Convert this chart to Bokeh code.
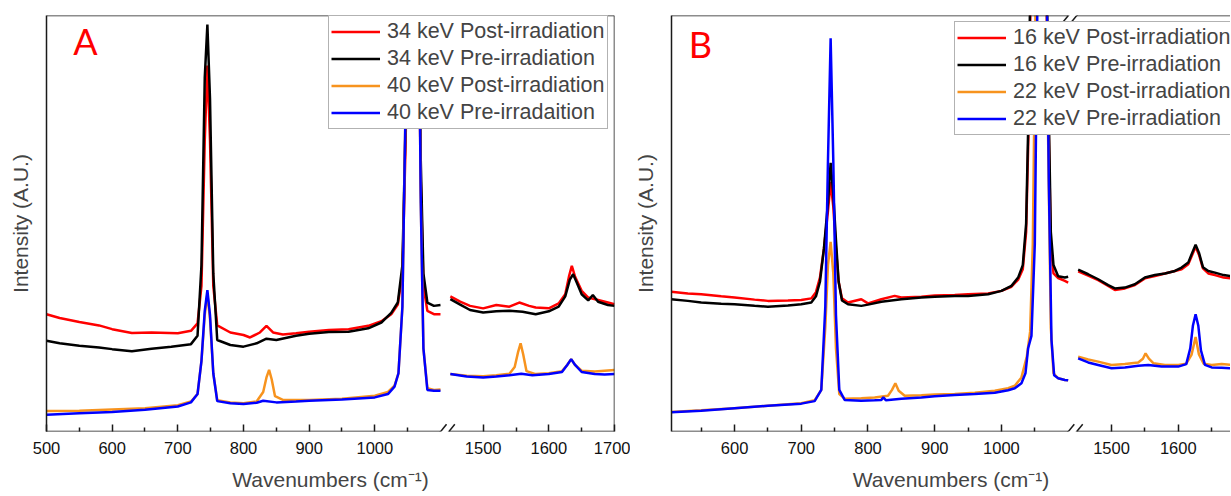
import numpy as np
from bokeh.plotting import figure
from bokeh.layouts import row
from bokeh.models import (ColumnDataSource, CustomJSTransform, FixedTicker, CustomJSTickFormatter,
                          Legend, LegendItem, Label, Arrow, Range1d)
from bokeh.transform import transform
from bokeh.embed import file_html
from bokeh.resources import INLINE

# ---------------- data (intensity in % of plot height, A.U.) ----------------
COLORS = ["#ff0000", "#000000", "#f7931e", "#0000ff"]
A_LABELS = ["34 keV Post-irradiation", "34 keV Pre-irradiation",
            "40 keV Post-irradiation", "40 keV Pre-irradaition"]
B_LABELS = ["16 keV Post-irradiation", "16 keV Pre-irradiation",
            "22 keV Post-irradiation", "22 keV Pre-irradiation"]

MAJOR_TICKS = [500, 600, 700, 800, 900, 1000, 1500, 1600, 1700]
MINOR_TICKS = [550, 650, 750, 850, 950, 1050, 1550, 1650]

# Panel A, 34 keV post (red)
A_red_x = [500, 520, 550, 580, 600, 630, 660, 700, 720, 730, 736, 741, 745, 749, 754, 760, 780, 800, 810,
           825, 835, 845, 860, 880, 900, 930, 960, 990, 1010, 1025, 1035, 1042, 1047, 1052, 1060, 1066,
           1070, 1074, 1080, 1090, 1100,
           1450, 1465, 1480, 1500, 1520, 1540, 1555, 1570, 1580, 1600, 1615, 1625, 1631, 1635, 1640, 1650,
           1660, 1675, 1690, 1700]
A_red_y = [28.2, 27.3, 26.3, 25.5, 24.6, 23.7, 23.8, 23.6, 24.2, 26, 35, 70, 88, 70, 35, 25.5, 23.8, 23.2, 22.6,
           23.8, 25.4, 23.8, 23.3, 23.6, 24.0, 24.4, 24.6, 25.4, 26.5, 28.2, 30.5, 38, 70, 130, 150, 110,
           60, 35, 29, 28.2, 28.2,
           32.5, 31.2, 30.2, 29.6, 30.4, 30.0, 31.0, 30.2, 29.8, 29.6, 30.8, 33.0, 37.5, 39.8, 37.2, 33.8,
           32.2, 31.6, 31.0, 30.6]
# Panel A, 34 keV pre (black)
A_blk_x = [500, 520, 550, 580, 600, 630, 660, 690, 720, 730, 736, 741, 745, 749, 754, 760, 780, 800, 820,
           835, 850, 880, 900, 930, 960, 990, 1010, 1025, 1035, 1042, 1047, 1052, 1060, 1066, 1070, 1074,
           1080, 1090, 1100,
           1450, 1465, 1480, 1500, 1520, 1540, 1560, 1580, 1600, 1615, 1625, 1632, 1637, 1642, 1650, 1660,
           1667, 1675, 1690, 1700]
A_blk_y = [21.8, 21.2, 20.6, 20.2, 19.8, 19.3, 19.9, 20.4, 21.0, 23, 40, 85, 97.8, 80, 38, 22, 20.8, 20.4, 21.2,
           22.3, 22.0, 23.0, 23.5, 23.9, 24.0, 24.8, 26.2, 28.5, 31, 40, 75, 140, 160, 120, 65, 38,
           31, 30.2, 30.4,
           31.8, 30.5, 29.2, 28.6, 28.9, 29.0, 28.8, 28.2, 28.9, 30.0, 32.5, 36.5, 37.8, 36, 33.0, 31.5,
           32.8, 31.2, 30.4, 30.2]
# Panel A, 40 keV post (orange)
A_org_x = [500, 550, 600, 650, 700, 720, 730, 736, 741, 745, 749, 754, 760, 780, 800, 820, 830, 835, 839,
           843, 848, 860, 900, 950, 1000, 1020, 1030, 1036, 1042, 1047, 1052, 1060, 1066, 1070, 1074,
           1080, 1090, 1100,
           1450, 1475, 1500, 1520, 1540, 1548, 1553, 1557, 1561, 1566, 1580, 1600, 1620, 1628, 1634, 1640,
           1650, 1670, 1685, 1700]
A_org_y = [4.9, 5.0, 5.3, 5.6, 6.3, 7.2, 9, 17, 28, 33, 27, 14, 7.5, 7.0, 6.8, 7.2, 9.5, 13, 14.8,
           12.5, 8.5, 7.6, 7.6, 7.9, 8.6, 9.5, 11, 14, 30, 80, 150, 170, 120, 55, 20,
           10.4, 10.0, 10.1,
           13.8, 13.4, 13.3, 13.5, 13.9, 15.5, 19, 21.2, 18.5, 14.5, 13.8, 14.0, 14.5, 16, 17.4, 16,
           14.6, 14.4, 14.6, 14.8]
# Panel A, 40 keV pre (blue)
A_blu_x = [500, 550, 600, 650, 700, 720, 730, 736, 741, 745, 749, 754, 760, 780, 800, 820, 830, 850, 880,
           900, 950, 1000, 1020, 1030, 1036, 1042, 1047, 1052, 1060, 1066, 1070, 1074, 1080, 1090, 1100,
           1450, 1475, 1500, 1520, 1540, 1558, 1575, 1600, 1620, 1628, 1634, 1640, 1650, 1670, 1685, 1700]
A_blu_y = [4.0, 4.4, 4.7, 5.2, 6.0, 7.0, 9, 17, 29, 34, 28, 14, 7.3, 6.8, 6.6, 6.9, 7.4, 7.0, 7.2,
           7.4, 7.7, 8.2, 9.0, 10.8, 14, 30, 80, 150, 170, 120, 55, 20, 10.0, 9.8, 9.8,
           13.8, 13.2, 13.0, 13.2, 13.5, 13.9, 13.5, 13.8, 14.3, 16, 17.4, 16, 14.3, 13.8, 13.7, 13.8]

# Panel B, 16 keV post (red)
B_red_x = [505, 530, 550, 580, 600, 630, 650, 680, 700, 715, 722, 728, 734, 740, 744, 748, 752, 756, 761, 770,
           790, 800, 820, 840, 850, 880, 900, 930, 950, 980, 1000, 1015, 1025, 1032, 1037, 1041, 1045, 1055,
           1065, 1070, 1074, 1078, 1085, 1095, 1100,
           1450, 1465, 1480, 1495, 1505, 1520, 1535, 1550, 1565, 1580, 1595, 1605, 1615, 1621, 1626, 1631,
           1637, 1645, 1655, 1668, 1680, 1700]
B_red_y = [33.6, 33.2, 33.0, 32.5, 32.2, 31.7, 31.4, 31.5, 31.6, 32.0, 33.5, 37, 44, 53, 60, 54, 44, 36, 32, 31.0,
           31.8, 30.8, 31.8, 32.6, 32.2, 32.4, 32.7, 32.8, 33.0, 33.2, 33.8, 34.8, 36.5, 39, 48, 75, 120, 150,
           130, 80, 45, 38, 36.9, 36.2, 35.8,
           38.5, 37.5, 36.4, 35.0, 34.0, 34.4, 35.2, 36.8, 37.4, 38.0, 38.6, 39.0, 40.2, 42.5, 44.4, 42.5,
           39.2, 38.0, 37.6, 37.0, 36.8, 36.6]
# Panel B, 16 keV pre (black)
B_blk_x = [505, 530, 550, 580, 600, 630, 650, 680, 700, 715, 722, 728, 734, 740, 744, 748, 752, 756, 761, 770,
           790, 800, 820, 850, 880, 900, 930, 950, 980, 1000, 1015, 1025, 1032, 1037, 1041, 1045, 1055, 1065,
           1070, 1074, 1078, 1085, 1095, 1100,
           1450, 1465, 1480, 1495, 1505, 1520, 1535, 1550, 1565, 1580, 1595, 1605, 1615, 1621, 1626, 1631,
           1637, 1645, 1655, 1668, 1680, 1700]
B_blk_y = [31.8, 31.4, 31.0, 30.7, 30.6, 30.2, 30.0, 30.3, 30.6, 31.0, 32.5, 36, 44, 55, 64.6, 57, 46, 36, 31.5, 30.6,
           30.2, 30.5, 31.2, 31.8, 32.2, 32.4, 32.6, 32.6, 33.0, 33.8, 35.0, 37.0, 40, 50, 80, 130, 160, 140,
           85, 48, 40, 37.3, 37.0, 37.2,
           38.9, 37.8, 36.6, 35.2, 34.4, 34.6, 35.4, 37.0, 37.6, 38.0, 38.6, 39.4, 40.6, 43, 44.9, 43,
           39.5, 38.6, 38.2, 37.6, 37.3, 37.0]
# Panel B, 22 keV post (orange)
B_org_x = [505, 550, 600, 650, 700, 720, 730, 736, 740, 744, 748, 752, 757, 765, 790, 810, 830, 836, 841,
           846, 855, 880, 900, 930, 960, 990, 1010, 1020, 1030, 1038, 1043, 1047, 1051, 1058, 1066, 1070,
           1074, 1078, 1085, 1095, 1100,
           1450, 1465, 1480, 1500, 1520, 1540, 1547, 1551, 1556, 1563, 1580, 1600, 1612, 1620, 1626, 1631,
           1638, 1650, 1665, 1680, 1700]
B_org_y = [4.7, 5.1, 5.6, 6.2, 6.8, 7.5, 10, 25, 40, 45.6, 38, 20, 9, 7.9, 8.0, 8.2, 8.6, 10, 11.6,
           9.8, 8.6, 8.7, 8.9, 9.0, 9.3, 9.8, 10.4, 11.0, 13.0, 18, 24, 45, 100, 150, 130, 70,
           25, 14, 12.8, 12.4, 12.3,
           18.0, 17.3, 16.8, 16.0, 16.2, 16.6, 17.5, 18.8, 17.5, 16.4, 16.0, 16.0, 16.3, 18.5, 22.7, 18.5,
           16.3, 16.0, 16.2, 16.0, 16.1]
# Panel B, 22 keV pre (blue)
B_blu_x = [505, 550, 600, 650, 700, 720, 730, 736, 740, 744, 748, 752, 757, 765, 790, 810, 820, 823, 827,
           850, 880, 900, 930, 960, 990, 1010, 1020, 1030, 1036, 1040, 1045, 1050, 1055, 1062, 1067, 1071,
           1075, 1079, 1085, 1095, 1100,
           1450, 1465, 1480, 1500, 1520, 1540, 1555, 1575, 1600, 1612, 1618, 1622, 1626, 1630, 1634, 1640,
           1650, 1665, 1680, 1700]
B_blu_y = [4.6, 5.0, 5.6, 6.2, 6.7, 7.3, 10, 30, 65, 94.5, 65, 28, 10, 7.6, 7.4, 7.5, 7.6, 8.2, 7.5,
           7.9, 8.2, 8.5, 8.8, 9.0, 9.3, 9.9, 10.4, 11.6, 14, 20, 23, 45, 120, 150, 120, 60,
           22, 13.5, 12.8, 12.4, 12.3,
           17.6, 16.6, 16.0, 15.2, 15.4, 15.8, 16.0, 15.6, 15.6, 16.2, 20, 25.5, 28.2, 25.5, 19.5, 16.0,
           15.4, 15.3, 15.2, 15.2]

A_SERIES = [(A_red_x, A_red_y), (A_blk_x, A_blk_y), (A_org_x, A_org_y), (A_blu_x, A_blu_y)]
B_SERIES = [(B_red_x, B_red_y), (B_blk_x, B_blk_y), (B_org_x, B_org_y), (B_blu_x, B_blu_y)]

# ---------------- broken-axis mapping ----------------
CUT = 1107      # values above this belong to the right-hand segment
SHIFT = 335     # 1450 cm-1 is drawn 15 units after 1100 cm-1
LEFT_END = 1100
RIGHT_START = 1450 - SHIFT


def to_disp(v):
    return v - SHIFT if v > CUT else v


brk = CustomJSTransform(args=dict(cut=CUT, shift=SHIFT), v_func="""
const out = new Float64Array(xs.length);
for (let i = 0; i < xs.length; i++) {
  const v = xs[i];
  out[i] = v > cut ? v - shift : v;
}
return out;
""")

fmt = CustomJSTickFormatter(args=dict(cut=CUT, shift=SHIFT), code="""
const v = tick > cut ? tick + shift : tick;
return Math.round(v).toString();
""")

FONT = "Liberation Sans"
FRAME_COLOR = "#1a1a1a"
H = 495


def split_series(xs, ys):
    xs = np.asarray(xs, dtype=float)
    ys = np.asarray(ys, dtype=float)
    k = int(np.searchsorted(xs, CUT))
    x = np.concatenate([xs[:k], [np.nan], xs[k:]])
    y = np.concatenate([ys[:k], [np.nan], ys[k:]])
    return x, y


def make_panel(letter, labels, series, d_start, d_end, width, left_border, top_border, right_border,
               legend_loc, letter_x, letter_y, draw_right):
    p = figure(width=width, height=H, x_range=Range1d(d_start, d_end), y_range=Range1d(0, 100),
               output_backend="svg", toolbar_location=None,
               min_border_left=left_border, min_border_right=right_border, min_border_top=top_border,
               min_border_bottom=H - 431,
               x_axis_label="Wavenumbers (cm\u207b\u00b9)", y_axis_label="Intensity (A.U.)")
    p.outline_line_color = None
    p.grid.visible = False
    p.background_fill_color = "white"
    p.border_fill_color = "white"

    # y axis: label only
    ya = p.yaxis[0]
    ya.ticker = FixedTicker(ticks=[])
    ya.major_tick_in = 0
    ya.major_tick_out = 0
    ya.minor_tick_in = 0
    ya.minor_tick_out = 0
    ya.major_label_text_font_size = "0px"
    ya.major_label_standoff = 0
    ya.axis_line_width = 1.5
    ya.axis_line_color = FRAME_COLOR
    ya.axis_label_text_font = FONT
    ya.axis_label_text_font_size = "21px"
    ya.axis_label_text_font_style = "normal"
    ya.axis_label_standoff = 15

    # x axis: ticks + labels, axis line drawn separately (broken)
    xa = p.xaxis[0]
    xa.ticker = FixedTicker(ticks=[to_disp(t) for t in MAJOR_TICKS],
                            minor_ticks=[to_disp(t) for t in MINOR_TICKS])
    xa.formatter = fmt
    xa.axis_line_color = None
    xa.major_tick_in = 7
    xa.major_tick_out = 0
    xa.minor_tick_in = 4
    xa.minor_tick_out = 0
    xa.major_tick_line_width = 1.5
    xa.minor_tick_line_width = 1.5
    xa.major_tick_line_color = FRAME_COLOR
    xa.minor_tick_line_color = FRAME_COLOR
    xa.major_label_standoff = 10
    xa.major_label_text_font = FONT
    xa.major_label_text_font_size = "16.5px"
    xa.major_label_text_color = "#111111"
    xa.axis_label_text_font = FONT
    xa.axis_label_text_font_size = "21px"
    xa.axis_label_text_font_style = "normal"
    xa.axis_label_standoff = 11

    items = []
    for (xs, ys), lab, col in zip(series, labels, COLORS):
        x, y = split_series(xs, ys)
        src = ColumnDataSource(dict(x=x, y=y))
        r = p.line(x=transform("x", brk), y="y", source=src, line_color=col, line_width=2.5)
        items.append(LegendItem(label=lab, renderers=[r]))

    # frame lines with a break
    def seg(x0, y0, x1, y1):
        p.add_layout(Arrow(start=None, end=None, x_start=x0, y_start=y0, x_end=x1, y_end=y1,
                           line_color=FRAME_COLOR, line_width=1.5))

    for yy in (0, 100):
        seg(d_start, yy, LEFT_END, yy)
        seg(RIGHT_START - 2, yy, d_end, yy)
        for c in (1100.3, 1112.9):
            seg(c - 8.9, yy - 1.76, c + 8.9, yy + 1.76)
    if draw_right:
        seg(d_end, 0, d_end, 100)

    p.add_layout(Label(x=letter_x, y=letter_y, text=letter, text_color="#ff0000",
                       text_font="Lato", text_font_size="36px"))

    legend = Legend(items=items, location=legend_loc)
    legend.label_text_font = FONT
    legend.label_text_font_size = "21.5px"
    legend.glyph_width = 49
    legend.glyph_height = 27
    legend.label_height = 27
    legend.label_standoff = 7
    legend.padding = 2
    legend.spacing = 0
    legend.margin = 0
    legend.border_line_color = "#666666"
    legend.border_line_width = 1
    legend.background_fill_alpha = 1
    p.add_layout(legend)
    return p


# panel A: frame x 46..614, y 15..431 ; panel B: frame x 668..1230, y 11..431
pA = make_panel("A", A_LABELS, A_SERIES, 500, 1365, 630, 46, 15, 16, (282, 302), 540.6, 88.5, True)
pB = make_panel("B", B_LABELS, B_SERIES, 505.5, 1343.3, 600, 38, 11, 0, (283, 296), 531.5, 87.9, False)

layout = row(pA, pB)
open("out.html", "w").write(file_html(layout, INLINE))
